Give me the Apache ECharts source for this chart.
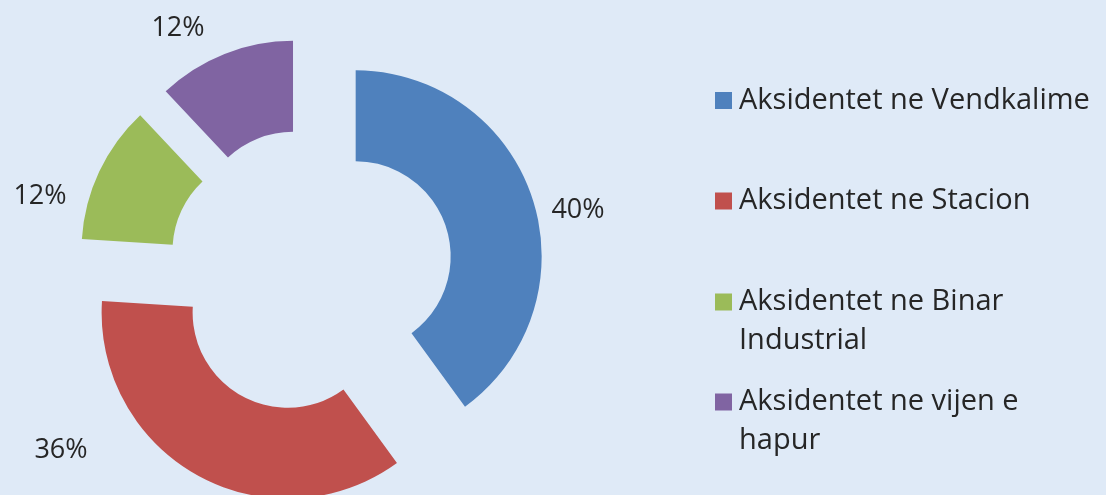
<!DOCTYPE html>
<html>
<head>
<meta charset="utf-8">
<script src="https://cdn.jsdelivr.net/npm/echarts@6/dist/echarts.min.js"></script>
<style>
  html, body { margin: 0; padding: 0; background: #dfeaf7; }
  #chart { width: 1106px; height: 495px; }
</style>
</head>
<body>
<div id="chart"></div>
<script>
// ---- data ----
const categories = [
  'Aksidentet ne Vendkalime',
  'Aksidentet ne Stacion',
  'Aksidentet ne Binar Industrial',
  'Aksidentet ne vijen e hapur'
];
const values = [40, 36, 12, 12];
const legendText = [
  'Aksidentet ne Vendkalime',
  'Aksidentet ne Stacion',
  'Aksidentet ne Binar\nIndustrial',
  'Aksidentet ne vijen e\nhapur'
];

// ---- styling ----
const colors = ['#4f81bd', '#c0504d', '#9bbb59', '#8064a2'];
const CX = 310.5, CY = 271;
const labelOffsets = [[267.5, -61], [-249.5, 179], [-270.5, -75], [-132.5, -243]];
const legendIconCenters = [100.5, 201, 302, 402];
const LINE = 39;
const FONT = '"Open Sans", "Noto Sans", sans-serif';

const chart = echarts.init(document.getElementById('chart'));

const legends = categories.map(function (name, i) {
  const twoLine = legendText[i].indexOf('\n') >= 0;
  const top = twoLine ? legendIconCenters[i] - 1.5 * LINE : legendIconCenters[i] - LINE / 2;
  return {
    orient: 'vertical',
    left: 715,
    top: top,
    padding: 0,
    itemWidth: 17,
    itemHeight: 17,
    icon: 'rect',
    selectedMode: false,
    data: [name],
    formatter: function (n) {
      const t = legendText[categories.indexOf(n)];
      // a leading empty line keeps the first text line level with the icon
      return t.indexOf('\n') >= 0 ? '\n' + t : t;
    },
    textStyle: {
      fontFamily: FONT,
      fontSize: 29,
      color: '#262626',
      lineHeight: LINE,
      padding: [0, 0, 0, 2]
    }
  };
});

const pieData = categories.map(function (name, i) {
  return { name: name, value: values[i] };
});

chart.setOption({
  animation: false,
  backgroundColor: '#dfeaf7',
  color: colors,
  legend: legends,
  series: [{
    type: 'pie',
    center: [CX, CY],
    radius: [95, 186],
    startAngle: 90,
    clockwise: true,
    selectedMode: 'multiple',
    selectedOffset: 47.5,
    avoidLabelOverlap: false,
    emphasis: { disabled: true },
    select: { itemStyle: { borderWidth: 0 } },
    itemStyle: { borderWidth: 0 },
    label: { show: false },
    labelLine: { show: false },
    data: pieData.map(function (d) {
      return { name: d.name, value: d.value, selected: true };
    })
  }, {
    // same pie, invisible, used only to carry the percentage labels
    type: 'pie',
    silent: true,
    center: [CX, CY],
    radius: [95, 186],
    startAngle: 90,
    clockwise: true,
    avoidLabelOverlap: false,
    emphasis: { disabled: true },
    itemStyle: { color: 'rgba(0,0,0,0)', borderWidth: 0 },
    label: {
      show: true,
      position: 'outside',
      fontFamily: FONT,
      fontSize: 27,
      color: '#262626',
      formatter: function (p) { return Math.round(p.percent) + '%'; }
    },
    labelLine: { show: false },
    labelLayout: function (p) {
      const o = labelOffsets[p.dataIndex];
      return { x: CX + o[0], y: CY + o[1], align: 'center', verticalAlign: 'middle' };
    },
    data: pieData
  }]
});
</script>
</body>
</html>
